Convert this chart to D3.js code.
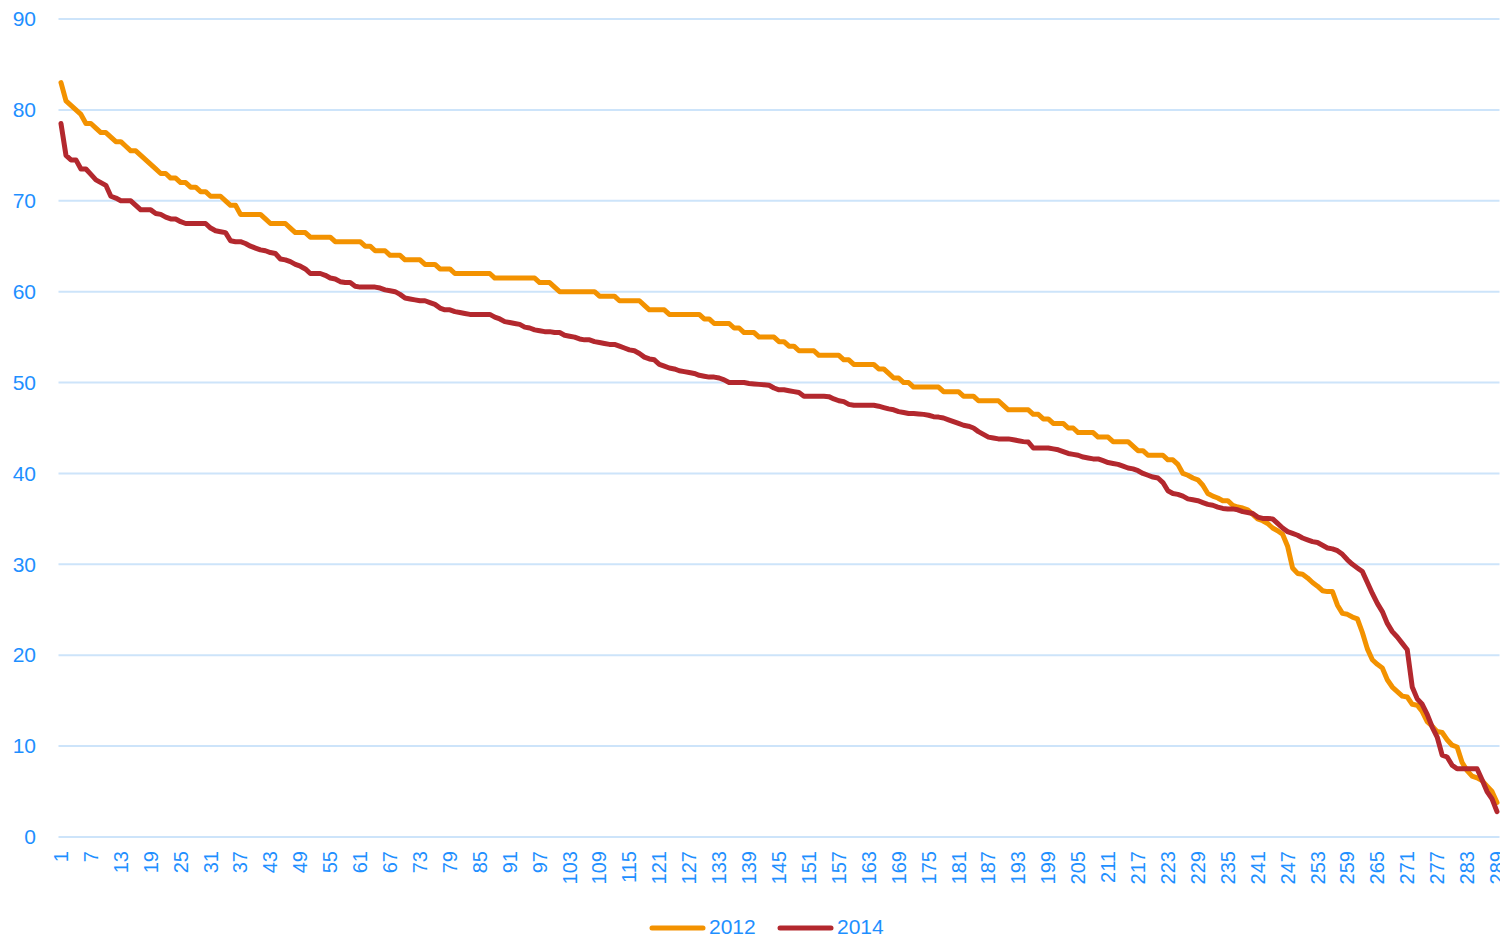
<!DOCTYPE html>
<html lang="en">
<head>
  <meta charset="UTF-8">
  <title>2012 vs 2014</title>
  <script src="https://d3js.org/d3.v7.min.js"></script>
  <style>
    body { margin: 0; background: #fff; }
    text { font-family: "Liberation Sans", Arial, sans-serif; }
  </style>
</head>
<body>
  <script>
    var series2012 = [
      83, 81, 80.5, 80, 79.5, 78.5, 78.5, 78, 77.5, 77.5,
      77, 76.5, 76.5, 76, 75.5, 75.5, 75, 74.5, 74, 73.5,
      73, 73, 72.5, 72.5, 72, 72, 71.5, 71.5, 71, 71,
      70.5, 70.5, 70.5, 70, 69.5, 69.5, 68.5, 68.5, 68.5, 68.5,
      68.5, 68, 67.5, 67.5, 67.5, 67.5, 67, 66.5, 66.5, 66.5,
      66, 66, 66, 66, 66, 65.5, 65.5, 65.5, 65.5, 65.5,
      65.5, 65, 65, 64.5, 64.5, 64.5, 64, 64, 64, 63.5,
      63.5, 63.5, 63.5, 63, 63, 63, 62.5, 62.5, 62.5, 62,
      62, 62, 62, 62, 62, 62, 62, 61.5, 61.5, 61.5,
      61.5, 61.5, 61.5, 61.5, 61.5, 61.5, 61, 61, 61, 60.5,
      60, 60, 60, 60, 60, 60, 60, 60, 59.5, 59.5,
      59.5, 59.5, 59, 59, 59, 59, 59, 58.5, 58, 58,
      58, 58, 57.5, 57.5, 57.5, 57.5, 57.5, 57.5, 57.5, 57,
      57, 56.5, 56.5, 56.5, 56.5, 56, 56, 55.5, 55.5, 55.5,
      55, 55, 55, 55, 54.5, 54.5, 54, 54, 53.5, 53.5,
      53.5, 53.5, 53, 53, 53, 53, 53, 52.5, 52.5, 52,
      52, 52, 52, 52, 51.5, 51.5, 51, 50.5, 50.5, 50,
      50, 49.5, 49.5, 49.5, 49.5, 49.5, 49.5, 49, 49, 49,
      49, 48.5, 48.5, 48.5, 48, 48, 48, 48, 48, 47.5,
      47, 47, 47, 47, 47, 46.5, 46.5, 46, 46, 45.5,
      45.5, 45.5, 45, 45, 44.5, 44.5, 44.5, 44.5, 44, 44,
      44, 43.5, 43.5, 43.5, 43.5, 43, 42.5, 42.5, 42, 42,
      42, 42, 41.5, 41.5, 41, 40, 39.8, 39.5, 39.3, 38.7,
      37.8, 37.5, 37.3, 37, 37, 36.5, 36.3, 36.2, 36, 35.5,
      35, 34.8, 34.5, 34, 33.7, 33.3, 32, 29.6, 29, 28.9,
      28.5, 28, 27.6, 27.1, 27, 27, 25.5, 24.6, 24.5, 24.2,
      24, 22.5, 20.7, 19.5, 19, 18.6, 17.3, 16.5, 16, 15.5,
      15.4, 14.6, 14.5, 13.8, 12.7, 12.2, 11.6, 11.5, 10.7, 10.1,
      9.9, 8.2, 7.3, 6.7, 6.5, 6.2, 5.6, 5, 3.8
    ];

    var series2014 = [
      78.5, 75, 74.5, 74.5, 73.5, 73.5, 72.9, 72.3, 72, 71.7,
      70.5, 70.3, 70, 70, 70, 69.5, 69, 69, 69, 68.6,
      68.5, 68.2, 68, 68, 67.7, 67.5, 67.5, 67.5, 67.5, 67.5,
      67, 66.7, 66.6, 66.5, 65.6, 65.5, 65.5, 65.3, 65, 64.8,
      64.6, 64.5, 64.3, 64.2, 63.6, 63.5, 63.3, 63, 62.8, 62.5,
      62, 62, 62, 61.8, 61.5, 61.4, 61.1, 61, 61, 60.6,
      60.5, 60.5, 60.5, 60.5, 60.4, 60.2, 60.1, 60, 59.7, 59.3,
      59.2, 59.1, 59, 59, 58.8, 58.6, 58.2, 58, 58, 57.8,
      57.7, 57.6, 57.5, 57.5, 57.5, 57.5, 57.5, 57.2, 57, 56.7,
      56.6, 56.5, 56.4, 56.1, 56, 55.8, 55.7, 55.6, 55.6, 55.5,
      55.5, 55.2, 55.1, 55, 54.8, 54.7, 54.7, 54.5, 54.4, 54.3,
      54.2, 54.2, 54, 53.8, 53.6, 53.5, 53.2, 52.8, 52.6, 52.5,
      52, 51.8, 51.6, 51.5, 51.3, 51.2, 51.1, 51, 50.8, 50.7,
      50.6, 50.6, 50.5, 50.3, 50, 50, 50, 50, 49.9, 49.85,
      49.8, 49.75, 49.7, 49.4, 49.2, 49.2, 49.1, 49, 48.9, 48.5,
      48.5, 48.5, 48.5, 48.5, 48.45, 48.2, 48, 47.9, 47.6, 47.5,
      47.5, 47.5, 47.5, 47.5, 47.4, 47.25, 47.1, 47, 46.8, 46.7,
      46.6, 46.6, 46.55, 46.5, 46.4, 46.25, 46.2, 46.1, 45.9, 45.7,
      45.5, 45.3, 45.2, 45, 44.6, 44.3, 44, 43.9, 43.8, 43.8,
      43.8, 43.7, 43.6, 43.5, 43.45, 42.8, 42.8, 42.8, 42.8, 42.7,
      42.6, 42.4, 42.2, 42.1, 42, 41.8, 41.7, 41.6, 41.6, 41.4,
      41.2, 41.1, 41, 40.8, 40.6, 40.5, 40.3, 40, 39.8, 39.6,
      39.5, 39, 38.1, 37.8, 37.7, 37.5, 37.2, 37.1, 37, 36.8,
      36.6, 36.5, 36.3, 36.15, 36.1, 36.1, 36, 35.8, 35.7, 35.6,
      35.2, 35.05, 35.05, 35, 34.5, 34, 33.6, 33.4, 33.2, 32.9,
      32.7, 32.5, 32.4, 32.1, 31.8, 31.7, 31.5, 31.1, 30.5, 30,
      29.6, 29.2, 28, 26.8, 25.7, 24.8, 23.5, 22.6, 22, 21.3,
      20.6, 16.5, 15.2, 14.6, 13.5, 12.1, 11, 9, 8.8, 7.9,
      7.5, 7.5, 7.5, 7.5, 7.5, 6.3, 5, 4.2, 2.8
    ];

    var categories = d3.range(1, series2012.length + 1);
    var xTickLabels = categories.filter(function(d) { return (d - 1) % 6 === 0; });
    var yTicks = [0, 10, 20, 30, 40, 50, 60, 70, 80, 90];
    var seriesNames = ["2012", "2014"];
    var colors = ["#F39200", "#B3282E"];

    var w = 1500;
    var h = 937;
    var plotLeft = 58.5, plotRight = 1499.5, plotTop = 19, plotBottom = 837;
    var axisBlue = "#1E8FFF";

    var svg = d3.select("body")
                .append("svg")
                .attr("width", w)
                .attr("height", h);

    var xScale = d3.scaleBand()
                   .domain(categories)
                   .range([plotLeft, plotRight]);

    var yScale = d3.scaleLinear()
                   .domain([0, 90])
                   .range([plotBottom, plotTop]);

    // gridlines
    svg.append("g")
       .selectAll("line")
       .data(yTicks)
       .enter()
       .append("line")
       .attr("x1", plotLeft)
       .attr("x2", plotRight)
       .attr("y1", function(d) { return yScale(d); })
       .attr("y2", function(d) { return yScale(d); })
       .attr("stroke", "#CDE4FA")
       .attr("stroke-width", 2);

    // y axis
    var yAxis = d3.axisLeft(yScale).tickValues(yTicks).tickSize(0).tickPadding(0);
    var gy = svg.append("g")
                .attr("transform", "translate(36,0)")
                .call(yAxis);
    gy.select(".domain").remove();
    gy.selectAll("text")
      .attr("fill", axisBlue)
      .attr("font-size", "21px")
      .attr("font-family", "Liberation Sans, Arial, sans-serif");

    // x axis
    var xAxis = d3.axisBottom(xScale).tickValues(xTickLabels).tickSize(0).tickPadding(0);
    var gx = svg.append("g")
                .attr("transform", "translate(0," + plotBottom + ")")
                .call(xAxis);
    gx.select(".domain").remove();
    gx.selectAll("text")
      .attr("transform", "rotate(-90)")
      .attr("x", -14)
      .attr("y", 0)
      .attr("dy", "0.35em")
      .attr("text-anchor", "end")
      .attr("fill", axisBlue)
      .attr("font-size", "20px")
      .attr("font-family", "Liberation Sans, Arial, sans-serif");

    // lines
    var line = d3.line()
                 .x(function(d, i) { return xScale(categories[i]) + xScale.bandwidth() / 2; })
                 .y(function(d) { return yScale(d); });

    [series2012, series2014].forEach(function(s, k) {
      svg.append("path")
         .datum(s)
         .attr("d", line)
         .attr("fill", "none")
         .attr("stroke", colors[k])
         .attr("stroke-width", 5)
         .attr("stroke-linejoin", "round")
         .attr("stroke-linecap", "round");
    });

    // legend
    var legendX = [650, 778];
    var legend = svg.append("g");
    seriesNames.forEach(function(name, k) {
      legend.append("line")
            .attr("x1", legendX[k] + 2)
            .attr("x2", legendX[k] + 53)
            .attr("y1", 928)
            .attr("y2", 928)
            .attr("stroke", colors[k])
            .attr("stroke-width", 5)
            .attr("stroke-linecap", "round");
      legend.append("text")
            .attr("x", legendX[k] + 59)
            .attr("y", 934)
            .attr("fill", axisBlue)
            .attr("font-size", "21px")
            .text(name);
    });
  </script>
</body>
</html>
